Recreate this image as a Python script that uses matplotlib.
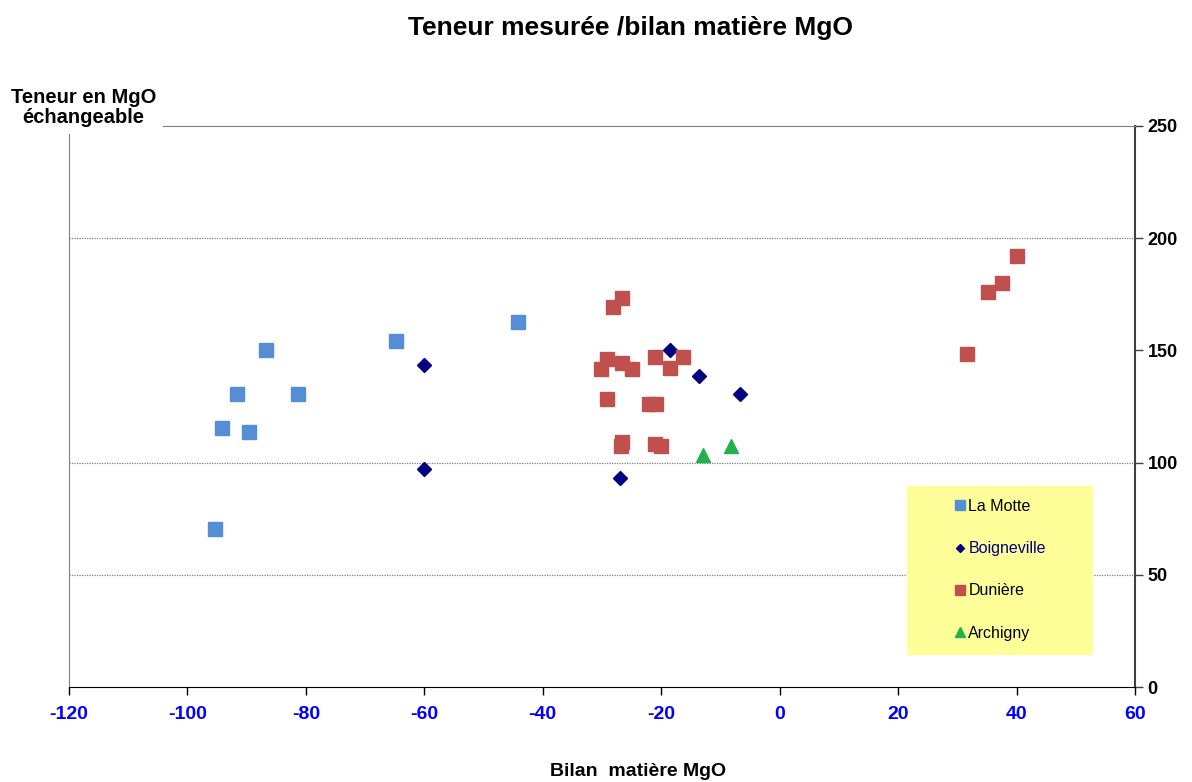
import matplotlib.pyplot as plt
from matplotlib.patches import Rectangle

plt.rcParams['font.family'] = ['Liberation Sans', 'DejaVu Sans']
plt.rcParams['axes.unicode_minus'] = False

# --- données ---
motte_x = [-95.3, -94.2, -91.6, -89.6, -86.7, -81.3, -64.8, -44.2]
motte_y = [70.4, 115.4, 130.6, 113.6, 150.2, 130.6, 154.2, 162.7]

boign_x = [-60.1, -60.1, -27.0, -18.5, -13.6, -6.7]
boign_y = [143.5, 97.1, 93.1, 150.2, 138.6, 130.6]

duniere_x = [-26.7, -28.1, -29.2, -30.2, -26.6, -25.0, -21.0, -16.3, -18.5,
             -29.2, -22.0, -20.9, -26.6, -26.8, -21.0, -20.1,
             40.1, 37.5, 35.1, 31.7]
duniere_y = [173.2, 169.2, 146.2, 141.6, 144.3, 141.6, 147.2, 147.2, 142.0,
             128.2, 126.1, 126.1, 109.0, 107.5, 108.3, 107.4,
             192.2, 180.2, 176.2, 148.3]

archi_x = [-12.9, -8.2]
archi_y = [103.4, 107.4]

x_ticks = [-120, -100, -80, -60, -40, -20, 0, 20, 40, 60]
y_ticks = [0, 50, 100, 150, 200, 250]
grid_levels = [50, 100, 200]

fig = plt.figure(figsize=(11.92, 7.82), dpi=100)
ax = fig.add_axes([69 / 1192, 1 - 687 / 782, (1135 - 69) / 1192, (687 - 126) / 782])

for g in grid_levels:
    ax.axhline(g, color='#808080', lw=0.9, ls=(0, (1, 1)), zorder=1)

ax.plot(motte_x, motte_y, 's', color='#558ED5', ms=10, mec='#558ED5', label='La Motte', zorder=3)
ax.plot(boign_x, boign_y, 'D', color='#000080', ms=7, label='Boigneville', zorder=3)
ax.plot(duniere_x, duniere_y, 's', color='#C0504D', ms=10, label='Dunière', zorder=3)
ax.plot(archi_x, archi_y, '^', color='#22B14C', ms=10, label='Archigny', zorder=3)

ax.set_xlim(-120, 60)
ax.set_ylim(0, 250)
ax.set_xticks(x_ticks)
ax.set_yticks(y_ticks)
ax.yaxis.tick_right()
ax.tick_params(axis='x', direction='out', length=6, width=1, colors='black',
               labelcolor='#0000FF', labelsize=14, pad=8)
ax.tick_params(axis='y', direction='out', length=6, width=1, colors='#404040',
               labelcolor='black', labelsize=13, pad=3)
for lab in ax.get_xticklabels() + ax.get_yticklabels():
    lab.set_fontweight('bold')

ax.spines['bottom'].set_color('black')
ax.spines['right'].set_color('#404040')
ax.spines['right'].set_linewidth(1.5)
ax.spines['left'].set_color('#808080')
ax.spines['top'].set_color('#808080')

# cadre jaune de la légende
ax.add_patch(Rectangle((0.786, 0.057), 0.175, 0.301, transform=ax.transAxes,
                       facecolor='#FFFF99', edgecolor='none', zorder=2))
leg = ax.legend(loc='upper left', bbox_to_anchor=(0.8316, 0.335), frameon=False,
                numpoints=1, markerscale=0.65, handlelength=0.55, handletextpad=0.25,
                labelspacing=1.7, borderpad=0, borderaxespad=0, fontsize=11.5)
leg.set_zorder(4)
leg.get_texts()[1].set_color('#000080')

fig.text(630 / 1192, 1 - 28 / 782, 'Teneur mesurée /bilan matière MgO', ha='center', va='center',
         fontsize=19, fontweight='bold')
fig.text(83.5 / 1192, 1 - 107.5 / 782, 'Teneur en MgO\néchangeable', ha='center', va='center',
         fontsize=14.5, fontweight='bold', linespacing=1.05,
         bbox=dict(facecolor='white', edgecolor='none', pad=5), zorder=10)
fig.text(638 / 1192, 1 - 771 / 782, 'Bilan  matière MgO', ha='center', va='center',
         fontsize=14, fontweight='bold')

fig.savefig('out.png', dpi=100)
